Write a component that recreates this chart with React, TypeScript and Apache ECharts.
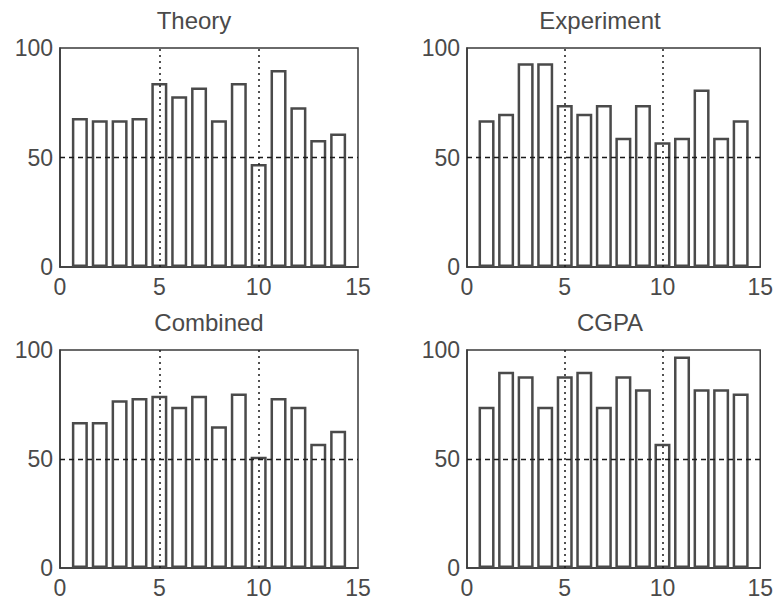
import React, { useEffect, useRef } from "react";
import * as echarts from "echarts";

const XS = [1, 2, 3, 4, 5, 6, 7, 8, 9, 10, 11, 12, 13, 14];
const THEORY = [68, 67, 67, 68, 84, 78, 82, 67, 84, 47, 90, 73, 58, 61];
const EXPERIMENT = [67, 70, 93, 93, 74, 70, 74, 59, 74, 57, 59, 81, 59, 67];
const COMBINED = [67, 67, 77, 78, 79, 74, 79, 65, 80, 51, 78, 74, 57, 63];
const CGPA = [74, 90, 88, 74, 88, 90, 74, 88, 82, 57, 97, 82, 82, 80];
const TITLES = ["Theory", "Experiment", "Combined", "CGPA"];
const X_TICKS = [0, 5, 10, 15];
const Y_TICKS = [0, 50, 100];
const REF_Y = [50];
const REF_X = [5, 10];

const SERIES = [THEORY, EXPERIMENT, COMBINED, CGPA];

const GRIDS = [
  { left: 60, top: 48, width: 298, height: 219 },
  { left: 467, top: 48, width: 296, height: 219 },
  { left: 60, top: 350, width: 298, height: 218 },
  { left: 467, top: 350, width: 296, height: 218 },
];
const TITLE_POS = [
  { x: 194, y: 8 },
  { x: 600, y: 8 },
  { x: 209, y: 310 },
  { x: 610, y: 310 },
];

const FONT = "Liberation Sans, Arial, sans-serif";
const TXT = "#4a4a4a";
const AX = "#3a3a3a";

export default function App() {
  const ref = useRef<HTMLDivElement>(null);
  useEffect(() => {
    if (!ref.current) return;
    const chart = echarts.init(ref.current, undefined, { renderer: "svg" });
    const option: any = {
      animation: false,
      backgroundColor: "#fff",
      title: TITLES.map((t, i) => ({
        text: t,
        left: TITLE_POS[i].x,
        top: TITLE_POS[i].y,
        textAlign: "center",
        padding: 0,
        textStyle: { fontSize: 24, fontWeight: "normal", color: TXT, fontFamily: FONT },
      })),
      grid: GRIDS.map((g) => ({
        ...g,
        show: true,
        borderColor: AX,
        borderWidth: 1.5,
        backgroundColor: "transparent",
      })),
      xAxis: GRIDS.map((_, i) => ({
        type: "value",
        gridIndex: i,
        min: X_TICKS[0],
        max: X_TICKS[X_TICKS.length - 1],
        interval: X_TICKS[1] - X_TICKS[0],
        axisLine: { show: true, lineStyle: { color: AX, width: 1.5 } },
        axisTick: { show: false },
        splitLine: { show: false },
        axisLabel: { fontSize: 23, color: TXT, fontFamily: FONT, margin: 8 },
      })),
      yAxis: GRIDS.map((_, i) => ({
        type: "value",
        gridIndex: i,
        min: Y_TICKS[0],
        max: Y_TICKS[Y_TICKS.length - 1],
        interval: Y_TICKS[1] - Y_TICKS[0],
        axisLine: { show: true, lineStyle: { color: AX, width: 1.5 } },
        axisTick: { show: false },
        splitLine: { show: false },
        axisLabel: { fontSize: 23, color: TXT, fontFamily: FONT, margin: 7 },
      })),
      series: SERIES.map((vals, i) => ({
        type: "bar",
        xAxisIndex: i,
        yAxisIndex: i,
        data: XS.map((x, j) => [x, vals[j]]),
        barWidth: 16,
        itemStyle: { color: "#ffffff", borderColor: "#4a4a4a", borderWidth: 2.5 },
        markLine: {
          silent: true,
          symbol: ["none", "none"],
          label: { show: false },
          data: [
            ...REF_Y.map((v) => ({
              yAxis: v,
              lineStyle: { color: "#1a1a1a", width: 1.3, type: [5, 4] },
            })),
            ...REF_X.map((v) => ({
              xAxis: v,
              lineStyle: { color: "#1a1a1a", width: 1.5, type: [2, 4] },
            })),
          ],
        },
      })),
    };
    chart.setOption(option);
    return () => chart.dispose();
  }, []);
  return (
    <div
      ref={ref}
      style={{ position: "fixed", left: 0, top: 0, width: 776, height: 603 }}
    />
  );
}
